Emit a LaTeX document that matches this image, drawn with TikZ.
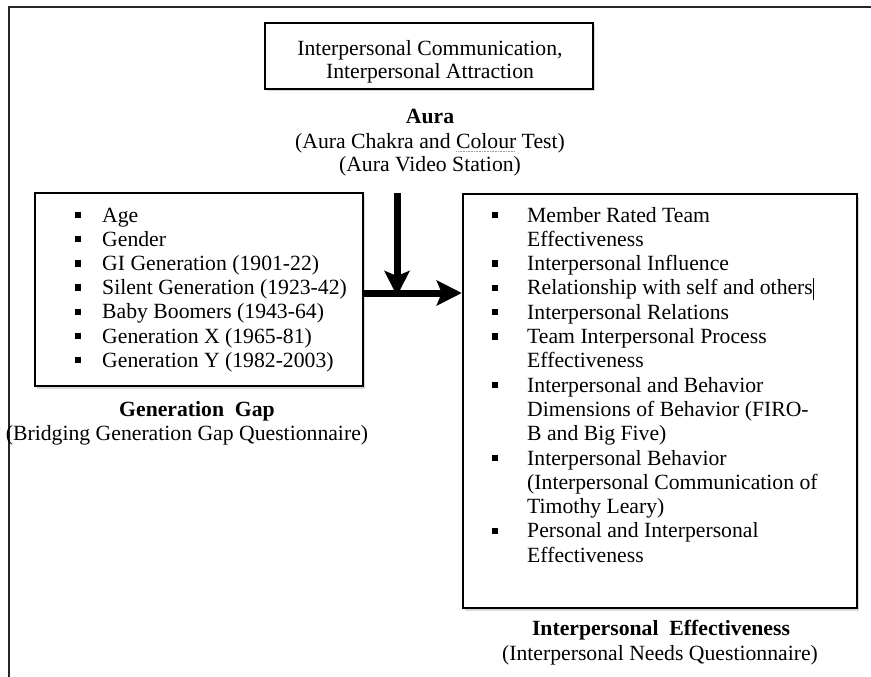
\documentclass[tikz,border=0pt]{standalone}
\usepackage{fontspec}
\setmainfont{Liberation Serif}
\usetikzlibrary{arrows.meta,shadows}
\newcommand\spellmark[1]{\setbox0=\hbox{#1}\rlap{\raisebox{-4pt}{\color{gray!80}\leaders\hbox to 1.6pt{\hss\rule{0.8pt}{0.8pt}\hss}\hskip\wd0}}\copy0\relax}
\newcommand\cursorbar{\rule[-5pt]{0.9pt}{22pt}}
\begin{document}
\begin{tikzpicture}[x=1pt,y=-1pt,
  box/.style={draw=black,line width=2.5pt,fill=white,inner sep=0pt,
    drop shadow={shadow xshift=1.5pt,shadow yshift=-2.5pt,opacity=0.3}},
  txt/.style={font=\fontsize{21.7}{24.3}\selectfont,inner sep=0pt,anchor=base west},
  ctr/.style={font=\fontsize{21.7}{24.3}\selectfont,inner sep=0pt,anchor=base},
  hdr/.style={font=\fontsize{21.7}{24.3}\selectfont\bfseries,inner sep=0pt,anchor=base},
  bul/.style={rectangle,fill=black,minimum size=6.3pt,inner sep=0pt},
  frame/.style={draw=black!85,line width=2pt},
  arr/.style={line width=7pt,-{Stealth[length=25pt,width=25pt,inset=5pt]}}]
\useasboundingbox (0,0) rectangle (871,677);
\fill[white] (0,0) rectangle (871,677);
% outer frame
\coordinate (fbl) at (9,677);
\coordinate (ftl) at (9,7);
\coordinate (ftr) at (871,7);
\draw[frame] (fbl) -- (ftl) -- (ftr);
% boxes
\node[box,minimum width=328pt,minimum height=66pt] (topbox) at (429,56) {};
\node[box,minimum width=328pt,minimum height=193pt] (leftbox) at (199,289.5) {};
\node[box,minimum width=394pt,minimum height=414pt] (rightbox) at (660,401) {};
% top box text
\node[ctr] (t1) at (430,56) {Interpersonal Communication,};
\node[ctr] (t2) at (430,78) {Interpersonal Attraction};
% aura
\node[hdr] (aura) at (430,124) {Aura};
\node[ctr] (aura2) at (430,148) {(Aura Chakra and \spellmark{Colour} Test)};
\node[ctr] (aura3) at (430,171) {(Aura Video Station)};
% left list
\foreach \k/\t in {0/Age,1/Gender,2/GI Generation (1901-22),3/Silent Generation (1923-42),4/Baby Boomers (1943-64),5/Generation X (1965-81),6/Generation Y (1982-2003)}{
  \node[txt] (l\k) at (102,{222+24.2*\k}) {\t};
  \node[bul] (lb\k) at (78,{215+24.2*\k}) {};
}
% right list
\foreach \k/\b/\t in {0/1/Member Rated Team,1/0/Effectiveness,2/1/Interpersonal Influence,3/1/Relationship with self and others\cursorbar,4/1/Interpersonal Relations,5/1/Team Interpersonal Process,6/0/Effectiveness,7/1/Interpersonal and Behavior,8/0/Dimensions of Behavior (FIRO-,9/0/B and Big Five),10/1/Interpersonal Behavior,11/0/(Interpersonal Communication of,12/0/Timothy Leary),13/1/Personal and Interpersonal,14/0/Effectiveness}{
  \node[txt] (r\k) at (527,{222+24.3*\k}) {\t};
  \ifnum\b=1 \node[bul] (rb\k) at (495,{215+24.3*\k}) {};\fi
}
% captions
\node[hdr] (gg) at (197,416) {Generation\ \ Gap};
\node[ctr] (gg2) at (187,440) {(Bridging Generation Gap Questionnaire)};
\node[hdr] (ie) at (661,635) {Interpersonal\ \ Effectiveness};
\node[ctr] (ie2) at (660,660) {(Interpersonal Needs Questionnaire)};
% arrows
\coordinate (vs) at (397,193);
\coordinate (ve) at (397,296);
\coordinate (hy) at (0,293);
\draw[arr] (vs) -- (ve);
\draw[arr] (leftbox.east |- hy) -- (rightbox.west |- hy);
\end{tikzpicture}
\end{document}
